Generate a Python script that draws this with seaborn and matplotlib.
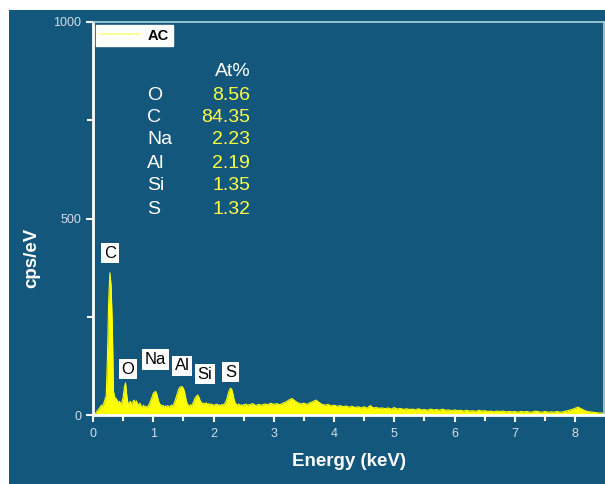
import numpy as np
import seaborn as sns
import matplotlib
matplotlib.use('Agg')
import matplotlib.pyplot as plt
from matplotlib.patches import Rectangle
from matplotlib.ticker import MultipleLocator

# spectrum (cps/eV)
counts_lo = [0, 0, 3, 8, 12, 16, 20, 25, 22, 30,
             40, 50, 150, 290, 362, 330, 230, 60, 45, 42,
             38, 30, 35, 28, 32, 45, 70, 82, 50, 30,
             28, 35, 26, 33, 38, 30, 36, 28, 25, 30,
             22, 20, 25, 18, 22, 20, 24, 30, 38, 45,
             55, 58, 60, 52, 40, 30, 26, 22, 25, 20,
             23, 21, 24, 20, 22, 25, 22, 28, 35, 45,
             55, 65, 70, 72, 72, 68, 58, 42, 30, 25,
             22, 26, 24, 30, 38, 45, 48, 51, 44, 36,
             32, 28, 30, 27, 31, 26, 29, 25, 28, 26,
             24, 27, 25, 28, 24, 26, 23, 27, 25, 28,
             32, 40, 52, 62, 68, 66, 55, 40, 30, 27,
             25, 28, 24, 26, 23, 27, 25, 28, 24, 26]
counts_hi = [26, 29, 24, 27, 25, 28, 26, 30, 27, 29,
             26, 30, 33, 38, 42, 36, 31, 28, 30, 27,
             31, 34, 38, 32, 27, 25, 27, 23, 25, 22,
             24, 21, 23, 20, 22, 19, 21, 18, 21, 17,
             24, 18, 19, 17, 18, 16, 18, 15, 19, 15,
             17, 14, 16, 14, 15, 13, 16, 13, 14, 12,
             15, 13, 14, 12, 15, 12, 13, 11, 13, 11,
             12, 10, 12, 10, 11, 9, 12, 10, 11, 9,
             10, 8, 10, 9, 10, 8, 9, 8, 9, 7,
             9, 8, 9, 7, 8, 10, 8, 7, 9, 7,
             8, 7, 9, 7, 8, 10, 12, 14, 17, 20,
             16, 12, 9, 8, 7, 6, 5, 5, 4]
energy_lo = np.linspace(0.0, 2.58, len(counts_lo))
energy_hi = np.linspace(2.60, 8.50, len(counts_hi))
energy = np.concatenate([energy_lo, energy_hi])
counts = np.array(counts_lo + counts_hi)

# peak labels
peak_names = ['C', 'O', 'Na', 'Al', 'Si', 'S']
peak_x = [0.28, 0.58, 1.03, 1.48, 1.86, 2.28]
peak_y = [412, 117, 142, 125, 104, 109]

# composition table
elements = ['O', 'C', 'Na', 'Al', 'Si', 'S']
at_pct = ['8.56', '84.35', '2.23', '2.19', '1.35', '1.32']

blue = '#14577d'
yellow = '#ffff00'

sns.set_theme(style='ticks')
plt.rcParams['font.family'] = ['Liberation Sans', 'DejaVu Sans']

fig = plt.figure(figsize=(6.05, 4.84), dpi=100)
fig.patch.set_facecolor('white')
fig.add_artist(Rectangle((9/605, 0), 1 - 9/605, 1 - 10/484, transform=fig.transFigure,
                         facecolor=blue, edgecolor='none', zorder=-10))
ax = fig.add_axes([93/605, 69/484, 511/605, 393/484])
ax.set_facecolor(blue)

ax.fill_between(energy, 0, counts, color=yellow, linewidth=0)
sns.lineplot(x=energy, y=counts, color=yellow, linewidth=0.8, label='AC', ax=ax)

ax.set_xlim(0, 8.48)
ax.set_ylim(0, 1000)
ax.xaxis.set_major_locator(MultipleLocator(1))
ax.xaxis.set_minor_locator(MultipleLocator(0.5))
ax.yaxis.set_major_locator(MultipleLocator(500))
ax.yaxis.set_minor_locator(MultipleLocator(250))
ax.tick_params(which='both', direction='out', color='white', width=1.5,
               labelcolor='#d5dde6', labelsize=9)
ax.tick_params(which='major', length=5)
ax.tick_params(which='minor', length=4)
ax.tick_params(axis='x', pad=4.5)

for s in ['left', 'bottom']:
    ax.spines[s].set_color('white')
    ax.spines[s].set_linewidth(2)
for s in ['top', 'right']:
    ax.spines[s].set_color('#a8d4dc')
    ax.spines[s].set_linewidth(1.2)

ax.set_xlabel('Energy (keV)', color='white', fontsize=13.5, fontweight='bold')
ax.set_ylabel('cps/eV', color='white', fontsize=13.5, fontweight='bold')
ax.xaxis.set_label_coords(0.5, -0.097)
ax.yaxis.set_label_coords(-0.104, 0.40)

leg = ax.legend(loc='upper left', bbox_to_anchor=(0.0, 1.0), borderaxespad=0.2,
                fancybox=False, framealpha=1, edgecolor='white', fontsize=10.5,
                handlelength=2.8, borderpad=0.25, handletextpad=0.5)
for t in leg.get_texts():
    t.set_fontweight('bold')
    t.set_color('black')
for h in leg.get_lines():
    h.set_color('#ffff80')
    h.set_linewidth(1.2)

for name, px, py in zip(peak_names, peak_x, peak_y):
    ax.text(px, py, name, fontsize=12, color='black', ha='center', va='center',
            bbox=dict(facecolor='white', edgecolor='none', pad=2))

ax.text(2.61, 875, 'At%', fontsize=14, color='white', ha='right', va='center')
row_y = [814, 756, 700, 641, 583, 524]
for el, val, yy in zip(elements, at_pct, row_y):
    ax.text(0.90, yy, el, fontsize=14, color='white', ha='left', va='center')
    ax.text(2.61, yy, val, fontsize=14, color='#ffff44', ha='right', va='center')

plt.savefig('out.png', dpi=100)
